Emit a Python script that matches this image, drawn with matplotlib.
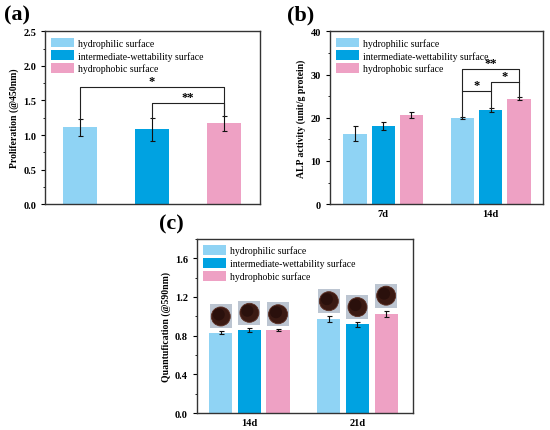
import numpy as np
import matplotlib.pyplot as plt
from matplotlib.patches import Rectangle, Ellipse

plt.rcParams['font.family'] = ['Liberation Serif', 'DejaVu Serif']
plt.rcParams['font.weight'] = 'bold'

# data
series = ['hydrophilic surface', 'intermediate-wettability surface', 'hydrophobic surface']
colors = ['#8fd3f4', '#00a2e1', '#eea1c4']

prolif = [1.11, 1.08, 1.17]
prolif_err = [0.12, 0.16, 0.11]

alp_days = ['7d', '14d']
alp = [[16.3, 19.9], [18.1, 21.8], [20.6, 24.4]]
alp_err = [[1.7, 0.3], [1.0, 0.5], [0.7, 0.4]]

q_days = ['14d', '21d']
quant = [[0.83, 0.97], [0.86, 0.917], [0.855, 1.024]]
quant_err = [[0.014, 0.032], [0.022, 0.024], [0.012, 0.035]]

FS = 7


def style_axes(ax):
    for s in ax.spines.values():
        s.set_color('#333333')
        s.set_linewidth(1.0)
    ax.tick_params(axis='y', direction='out', length=3, width=0.8, labelsize=7.5)
    ax.tick_params(axis='y', which='minor', direction='out', length=1.5, width=0.6)
    ax.tick_params(axis='x', length=0, labelsize=7.5)
    for lab in ax.get_yticklabels() + ax.get_xticklabels():
        lab.set_fontweight('bold')


def add_legend(ax):
    ax.legend(loc='upper left', frameon=False, handlelength=2.3,
              handleheight=1.15, labelspacing=0.28, handletextpad=0.45,
              borderaxespad=0.3, borderpad=0.35,
              prop={'family': 'Liberation Serif', 'weight': 'normal', 'size': FS})


def bracket(ax, x1, x2, y1, y2, ytop, text):
    ax.plot([x1, x1, x2, x2], [y1, ytop, ytop, y2], color='#222222', lw=0.8)
    ax.text((x1 + x2) / 2, ytop, text, ha='center', va='bottom', fontsize=9,
            fontweight='bold')


fig = plt.figure(figsize=(5.5, 4.31), dpi=100)
ekw = dict(ecolor='#111111', elinewidth=0.8, capsize=1.8, capthick=0.8)

# (a)
ax = fig.add_axes([0.082, 0.524, 0.391, 0.401])
xa = np.arange(3)
for i in range(3):
    ax.bar(xa[i], prolif[i], width=0.475, color=colors[i], label=series[i],
           yerr=prolif_err[i], error_kw=ekw)
ax.set_xlim(-0.484, 2.507)
ax.set_ylim(0, 2.5)
ax.set_yticks(np.arange(0, 2.51, 0.5))
ax.yaxis.set_minor_locator(plt.MultipleLocator(0.25))
ax.set_xticks([])
ax.set_ylabel('Proliferation (@450nm)', fontsize=FS, fontweight='bold', labelpad=3)
tops = [p + e for p, e in zip(prolif, prolif_err)]
bracket(ax, xa[0], xa[2], tops[0], tops[2], 1.69, '*')
bracket(ax, xa[1], xa[2], tops[1], tops[2], 1.47, '**')
add_legend(ax)
style_axes(ax)
fig.text(0.008, 0.953, '(a)', fontsize=16, fontweight='bold')

# (b)
ax = fig.add_axes([0.6, 0.524, 0.387, 0.401])
xg = np.arange(2)
off, bw = 0.263, 0.217
for i in range(3):
    ax.bar(xg + (i - 1) * off, alp[i], width=bw, color=colors[i], label=series[i],
           yerr=alp_err[i], error_kw=ekw)
ax.set_xlim(-0.495, 1.486)
ax.set_ylim(0, 40)
ax.set_yticks(np.arange(0, 41, 10))
ax.yaxis.set_minor_locator(plt.MultipleLocator(5))
ax.set_xticks(xg)
ax.set_xticklabels(alp_days)
ax.set_ylabel('ALP activity (unit/g protein)', fontsize=FS, fontweight='bold', labelpad=3)
t = [alp[i][1] + alp_err[i][1] for i in range(3)]
xs = [1 + (i - 1) * off for i in range(3)]
bracket(ax, xs[0], xs[1], t[0], t[1], 26.1, '*')
bracket(ax, xs[1], xs[2], 26.1, t[2], 28.2, '*')
bracket(ax, xs[0], xs[2], 26.1, 28.2, 31.2, '**')
add_legend(ax)
style_axes(ax)
fig.text(0.522, 0.953, '(b)', fontsize=16, fontweight='bold')

# (c)
pos_c = [0.358, 0.0394, 0.393, 0.404]
ax = fig.add_axes(pos_c)
off, bw = 0.265, 0.215
for i in range(3):
    ax.bar(xg + (i - 1) * off, quant[i], width=bw, color=colors[i], label=series[i],
           yerr=quant_err[i], error_kw=ekw)
xlim_c, ylim_c = (-0.486, 1.514), (0, 1.8)
ax.set_xlim(*xlim_c)
ax.set_ylim(*ylim_c)
ax.set_yticks(np.arange(0, 1.61, 0.4))
ax.yaxis.set_minor_locator(plt.MultipleLocator(0.2))
ax.set_xticks(xg)
ax.set_xticklabels(q_days)
ax.set_ylabel('Quantufication (@590nm)', fontsize=FS, fontweight='bold', labelpad=3)

# stained disk photos above each bar
pxx = pos_c[2] * 550 / (xlim_c[1] - xlim_c[0])
pxy = pos_c[3] * 431 / (ylim_c[1] - ylim_c[0])
for i in range(3):
    for j in range(2):
        xc = j + (i - 1) * off
        y0 = quant[i][j] + quant_err[i][j] + 0.03
        w, h = 22 / pxx, 24 / pxy
        ax.add_patch(Rectangle((xc - w / 2, y0), w, h, facecolor='#bcc5d1',
                               edgecolor='none', zorder=3))
        ax.add_patch(Ellipse((xc, y0 + h / 2), 19 / pxx, 19 / pxy, facecolor='#3b1a13',
                             edgecolor='#5a2c20', lw=0.6, zorder=4))
        ax.add_patch(Ellipse((xc - 2 / pxx, y0 + h / 2 + 2 / pxy), 12 / pxx, 12 / pxy,
                             facecolor='#2a100c', edgecolor='none', zorder=5))
add_legend(ax)
style_axes(ax)
fig.text(0.29, 0.468, '(c)', fontsize=16, fontweight='bold')

fig.savefig('out.png', dpi=100)
